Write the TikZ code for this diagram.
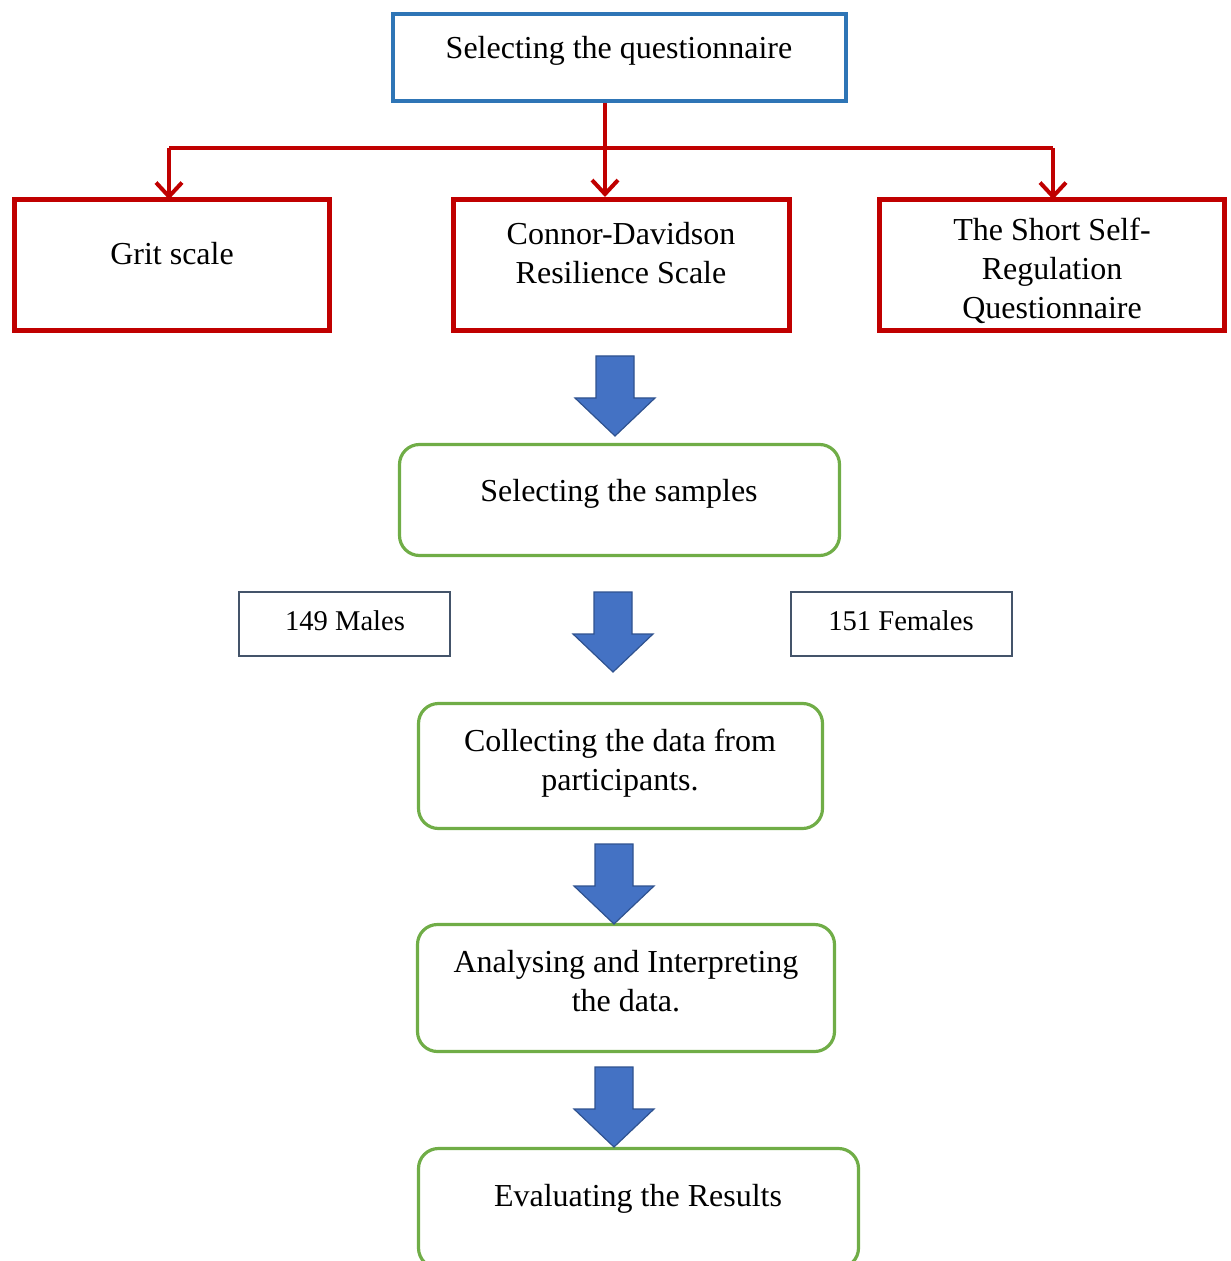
\documentclass[tikz,border=0pt]{standalone}
\usepackage{fontspec}
\setmainfont{Liberation Serif}
\usetikzlibrary{arrows.meta,fit}
\definecolor{qblue}{RGB}{46,117,182}
\definecolor{qred}{RGB}{192,0,0}
\definecolor{qgreen}{RGB}{112,173,71}
\definecolor{afill}{RGB}{68,114,196}
\definecolor{aedge}{RGB}{47,82,143}
\definecolor{slate}{RGB}{68,84,106}
\tikzset{
  bluebox/.style={draw=qblue,line width=2pt,inner sep=0pt},
  redbox/.style={draw=qred,line width=2.5pt,inner sep=0pt},
  greenbox/.style={draw=qgreen,line width=1.6pt,rounded corners=10pt,inner sep=0pt},
  slatebox/.style={draw=slate,line width=1.2pt,inner sep=0pt},
  txt/.style={font=\fontsize{16}{19.5}\selectfont,align=center,anchor=base,inner sep=0pt},
  smalltxt/.style={font=\fontsize{14.3}{17}\selectfont,anchor=base,inner sep=0pt},
  redarrow/.style={draw=qred,line width=2pt,-{Straight Barb[length=7pt,width=13pt]}},
  barrowpic/.pic={\draw[fill=afill,draw=aedge,line width=0.6pt,line join=miter]
     (-19,0) -- (19,0) -- (19,42) -- (40,42) -- (0,80) -- (-40,42) -- (-19,42) -- cycle;}
}
\begin{document}
\begin{tikzpicture}[x=0.5pt,y=-0.5pt]
\useasboundingbox (0,0) rectangle (1230,1261);
% top box
\node[bluebox,fit={(393,14) (846,101)}] (q) {};
\node[txt] (qt) at (619,59) {Selecting the questionnaire};
% three red boxes
\node[redbox,fit={(14.5,199.5) (329.5,330.5)}] (g) {};
\node[txt] (gt) at (172,265) {Grit scale};
\node[redbox,fit={(453.5,199.5) (789.5,330.5)}] (c) {};
\node[txt] (ct) at (621,284) {Connor-Davidson\\Resilience Scale};
\node[redbox,fit={(879.5,199.5) (1224.5,330.5)}] (s) {};
\node[txt] (st) at (1052,319) {The Short Self-\\Regulation\\Questionnaire};
% red connectors
\coordinate (hub) at (605,148);
\coordinate (gin) at (169,199.5);
\coordinate (sin) at (1053,199.5);
\draw[draw=qred,line width=2pt] (hub -| gin) -- (hub -| sin);
\draw[redarrow] (q.south -| hub) -- (c.north -| hub);
\draw[redarrow] (hub -| gin) -- (gin);
\draw[redarrow] (hub -| sin) -- (sin);
% samples
\node[greenbox,fit={(399.5,444.5) (839.5,555.5)}] (sa) {};
\node[txt] (sat) at (619,501) {Selecting the samples};
\node[slatebox,fit={(239,592) (450,656)}] (m) {};
\node[smalltxt] (mt) at (345,630) {149 Males};
\node[slatebox,fit={(791,592) (1012,656)}] (f) {};
\node[smalltxt] (ft) at (901,630) {151 Females};
% collecting
\node[greenbox,fit={(418.5,703.5) (822.5,828.5)}] (co) {};
\node[txt] (cot) at (620,790) {Collecting the data from\\participants.};
% analysing
\node[greenbox,fit={(417.5,924.5) (834.5,1051.5)}] (an) {};
\node[txt] (ant) at (626,1011) {Analysing and Interpreting\\the data.};
% evaluating
\node[greenbox,fit={(418.5,1148.5) (858.5,1268)}] (ev) {};
\node[txt] (evt) at (638,1206) {Evaluating the Results};
% block arrows
\pic at (615,356) {barrowpic};
\pic at (613,592) {barrowpic};
\pic at (614,844) {barrowpic};
\pic at (614,1067) {barrowpic};
\end{tikzpicture}
\end{document}
